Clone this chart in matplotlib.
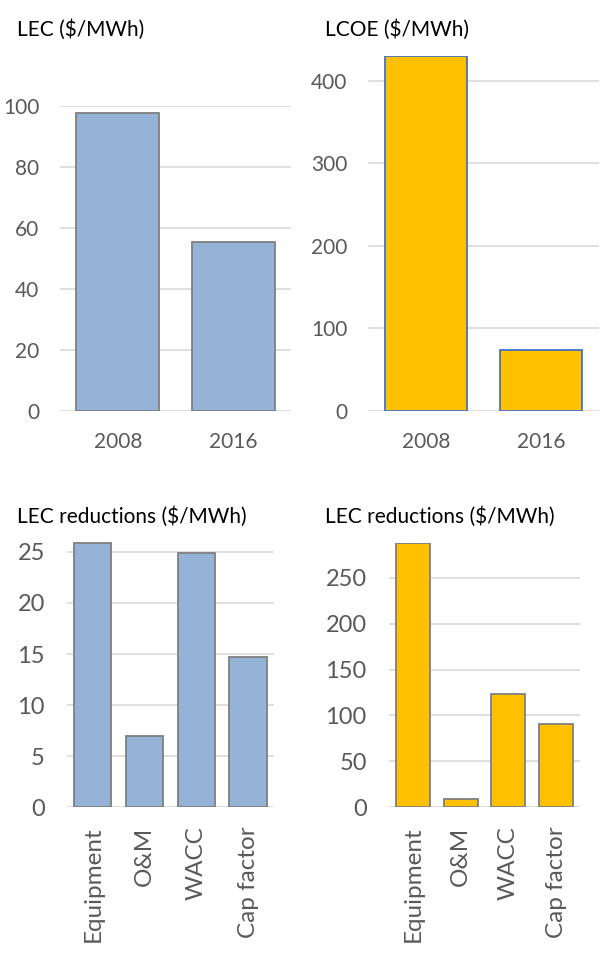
import matplotlib.pyplot as plt

# data
years = ['2008', '2016']
lec = [97.7, 55.4]
lcoe = [430, 74]
factors = ['Equipment', 'O&M', 'WACC', 'Cap factor']
lec_red_blue = [25.9, 7.0, 24.85, 14.7]
lec_red_yellow = [288, 8.7, 123.4, 90.7]

plt.rcParams['font.family'] = ['Lato', 'DejaVu Sans']

BLUE = '#95b3d7'
YELLOW = '#ffc000'
GREY_EDGE = '#7f7f7f'
BLUE_EDGE = '#4472c4'
GRID = '#d9d9d9'
TICK = '#595959'

fig = plt.figure(figsize=(6.04, 9.6), dpi=100)


def style_axes(ax, ylim, yticks, tick_size, xpad, ypad, rot=0, xsize=None):
    ax.set_ylim(*ylim)
    ax.set_yticks(yticks)
    for s in ax.spines.values():
        s.set_visible(False)
    ax.set_axisbelow(True)
    ax.yaxis.grid(True, color=GRID, linewidth=1.2)
    ax.tick_params(axis='y', length=0, pad=ypad, labelsize=tick_size, labelcolor=TICK)
    ax.tick_params(axis='x', length=0, pad=xpad, labelsize=xsize or tick_size,
                   labelcolor=TICK, labelrotation=rot)


# top left
ax1 = fig.add_axes([0.0993, 0.5719, 0.3825, 0.3177])
ax1.bar(range(len(years)), lec, width=0.715, color=BLUE, edgecolor=GREY_EDGE, linewidth=1.3)
ax1.set_xticks(range(len(years)), years)
ax1.set_xlim(-0.5, 1.5)
style_axes(ax1, (0, 100), [0, 20, 40, 60, 80, 100], 15, 15, 15)

# top right
ax2 = fig.add_axes([0.6093, 0.5719, 0.3825, 0.3695])
ax2.bar(range(len(years)), lcoe, width=0.71, color=YELLOW, edgecolor=BLUE_EDGE, linewidth=1.3)
ax2.set_xticks(range(len(years)), years)
ax2.set_xlim(-0.5, 1.5)
style_axes(ax2, (0, 430), [0, 100, 200, 300, 400], 15, 15, 15)

# bottom left
ax3 = fig.add_axes([0.1109, 0.1591, 0.3427, 0.2767])
ax3.bar(range(len(factors)), lec_red_blue, width=0.72, color=BLUE, edgecolor=GREY_EDGE, linewidth=1.3)
ax3.set_xticks(range(len(factors)), factors)
ax3.set_xlim(-0.5, 3.5)
style_axes(ax3, (0, 26), [0, 5, 10, 15, 20, 25], 17, 14, 16, rot=90, xsize=17.5)

# bottom right
ax4 = fig.add_axes([0.6440, 0.1591, 0.3162, 0.2753])
ax4.bar(range(len(factors)), lec_red_yellow, width=0.71, color=YELLOW, edgecolor=GREY_EDGE, linewidth=1.3)
ax4.set_xticks(range(len(factors)), factors)
ax4.set_xlim(-0.5, 3.5)
style_axes(ax4, (0, 288), [0, 50, 100, 150, 200, 250], 17, 14, 16, rot=90, xsize=17.5)

# titles
fig.text(17 / 604, 1 - 30 / 960, 'LEC ($/MWh)', fontsize=15, va='center', ha='left', color='black')
fig.text(325 / 604, 1 - 30 / 960, 'LCOE ($/MWh)', fontsize=15, va='center', ha='left', color='black')
fig.text(17 / 604, 1 - 517 / 960, 'LEC reductions ($/MWh)', fontsize=15, va='center', ha='left', color='black')
fig.text(325 / 604, 1 - 517 / 960, 'LEC reductions ($/MWh)', fontsize=15, va='center', ha='left', color='black')

fig.savefig('out.png', dpi=100)
plt.close(fig)
